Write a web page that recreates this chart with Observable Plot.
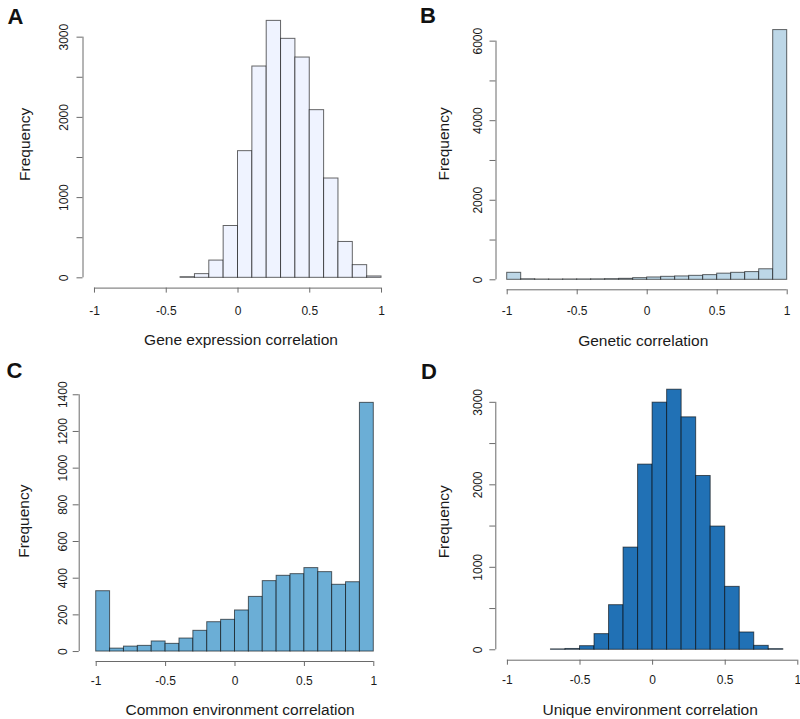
<!DOCTYPE html>
<html><head><meta charset="utf-8">
<script src="https://cdn.jsdelivr.net/npm/d3@7"></script>
<script src="https://cdn.jsdelivr.net/npm/@observablehq/plot@0.6"></script>
<style>
body{margin:0;background:#fff;}
#fig{position:relative;width:800px;height:719px;overflow:hidden;background:#fff;font-family:"Liberation Sans",Arial,Helvetica,sans-serif;}
.panel{position:absolute;}
.tag{position:absolute;font-weight:bold;font-size:22px;line-height:1;color:#111;}
</style></head><body><div id="fig"></div>
<script>
// x-axis ticks (shared)
const xTicks = [-1, -0.5, 0, 0.5, 1];
const xTickLabels = ["-1", "-0.5", "0", "0.5", "1"];

// Panel A: gene expression correlation
const startsA = [-0.4,-0.3,-0.2,-0.1,0,0.1,0.2,0.3,0.4,0.5,0.6,0.7,0.8,0.9];
const countsA = [8,46,215,646,1579,2634,3203,2979,2746,2090,1238,447,158,17];
const yTicksA = [0,500,1000,1500,2000,2500,3000];
const yLabelsA = [0,1000,2000,3000];

// Panel B: genetic correlation
const startsB = [-1,-0.9,-0.8,-0.7,-0.6,-0.5,-0.4,-0.3,-0.2,-0.1,0,0.1,0.2,0.3,0.4,0.5,0.6,0.7,0.8,0.9];
const countsB = [176,14,8,7,9,10,12,17,25,42,59,75,85,100,118,155,176,194,265,6278];
const yTicksB = [0,1000,2000,3000,4000,5000,6000];
const yLabelsB = [0,2000,4000,6000];

// Panel C: common environment correlation
const startsC = [-1,-0.9,-0.8,-0.7,-0.6,-0.5,-0.4,-0.3,-0.2,-0.1,0,0.1,0.2,0.3,0.4,0.5,0.6,0.7,0.8,0.9];
const countsC = [329,16,27,31,55,42,71,113,160,173,224,298,384,413,422,455,433,364,378,1356];
const yTicksC = [0,200,400,600,800,1000,1200,1400];
const yLabelsC = [0,200,400,600,800,1000,1200,1400];

// Panel D: unique environment correlation
const startsD = [-0.7,-0.6,-0.5,-0.4,-0.3,-0.2,-0.1,0,0.1,0.2,0.3,0.4,0.5,0.6,0.7,0.8];
const countsD = [5,10,44,190,541,1239,2245,2996,3153,2818,2107,1494,763,210,48,8];
const yTicksD = [0,500,1000,1500,2000,2500,3000];
const yLabelsD = [0,1000,2000,3000];

const binWidth = 0.1;

const panels = [
  {tag:"A", starts:startsA, counts:countsA, yTicks:yTicksA, yLabels:yLabelsA, fill:"#eff3ff",
   xlabel:"Gene expression correlation", left:0, top:0, width:400, height:360,
   xDomain:[-1.08,1.08], mt:10.1, mb:72.4, ml:82.5, mr:7.5,
   xPad:13, yPad:9, xdx:3, xdy:52, ydx:-57.5, ydy:-5, tagX:7.5, tagY:5.5},
  {tag:"B", starts:startsB, counts:countsB, yTicks:yTicksB, yLabels:yLabelsB, fill:"#bdd7e7",
   xlabel:"Genetic correlation", left:400, top:0, width:400, height:360,
   xDomain:[-1.08,1.08], mt:19.6, mb:70.7, ml:95.5, mr:2.1,
   xPad:11.5, yPad:8, xdx:-4, xdy:51, ydx:-52, ydy:-11, tagX:420, tagY:4.5},
  {tag:"C", starts:startsC, counts:countsC, yTicks:yTicksC, yLabels:yLabelsC, fill:"#6baed6",
   xlabel:"Common environment correlation", left:0, top:360, width:400, height:359,
   xDomain:[-1.1225,1.08], mt:32.4, mb:58, ml:78.7, mr:15.6,
   xPad:9.5, yPad:6, xdx:8, xdy:49, ydx:-55, ydy:-6, tagX:6.5, tagY:359.5},
  {tag:"D", starts:startsD, counts:countsD, yTicks:yTicksD, yLabels:yLabelsD, fill:"#2171b5",
   xlabel:"Unique environment correlation", left:400, top:360, width:400, height:359,
   xDomain:[-1.08,1.0186], mt:18.8, mb:59.3, ml:95.3, mr:0,
   xPad:10.5, yPad:8, xdx:2, xdy:50, ydx:-52, ydy:2, tagX:421, tagY:361}
];

const fig = document.getElementById("fig");
const axisGray = "#6a6a6a";

for (const p of panels) {
  const bins = p.starts.map((s, i) => ({x1: s, x2: +(s + binWidth).toFixed(2), count: p.counts[i]}));
  const M = d3.max(p.counts);
  const yDomain = [-0.04 * M, 1.04 * M];
  const chart = Plot.plot({
    width: p.width, height: p.height,
    marginTop: p.mt, marginBottom: p.mb, marginLeft: p.ml, marginRight: p.mr,
    style: {fontFamily: '"Liberation Sans", Arial, Helvetica, sans-serif', fontSize: "12px", color: "#1a1a1a", background: "transparent", overflow: "visible"},
    x: {domain: p.xDomain},
    y: {domain: yDomain},
    marks: [
      Plot.rectY(bins, {x1: "x1", x2: "x2", y: "count", fill: p.fill, stroke: "#000", strokeOpacity: 0.6, strokeWidth: 1}),
      // R-style axis lines spanning first..last tick
      Plot.ruleY([yDomain[0]], {x1: xTicks[0], x2: xTicks[xTicks.length - 1], stroke: axisGray}),
      Plot.ruleX([p.xDomain[0]], {y1: p.yTicks[0], y2: p.yTicks[p.yTicks.length - 1], stroke: axisGray}),
      Plot.axisX({ticks: xTicks, tickFormat: (d) => xTickLabels[xTicks.indexOf(d)], tickSize: 5, tickPadding: p.xPad, label: null, stroke: axisGray, fill: "#1a1a1a"}),
      Plot.axisY({ticks: p.yTicks, tickFormat: (d) => p.yLabels.includes(d) ? String(d) : "", tickRotate: -90, tickSize: 6, tickPadding: p.yPad, label: null, stroke: axisGray, fill: "#1a1a1a"}),
      Plot.text([p.xlabel], {text: (d) => d, frameAnchor: "bottom", dx: p.xdx, dy: p.xdy, lineAnchor: "middle", fontSize: 15.5, fill: "#1a1a1a"}),
      Plot.text(["Frequency"], {text: (d) => d, frameAnchor: "left", dx: p.ydx, dy: p.ydy, rotate: -90, lineAnchor: "middle", textAnchor: "middle", fontSize: 15.5, fill: "#1a1a1a"})
    ]
  });
  chart.classList.add("panel");
  chart.style.left = p.left + "px";
  chart.style.top = p.top + "px";
  fig.appendChild(chart);
  const tag = document.createElement("div");
  tag.className = "tag";
  tag.textContent = p.tag;
  tag.style.left = p.tagX + "px";
  tag.style.top = p.tagY + "px";
  fig.appendChild(tag);
}
</script>
</body></html>
